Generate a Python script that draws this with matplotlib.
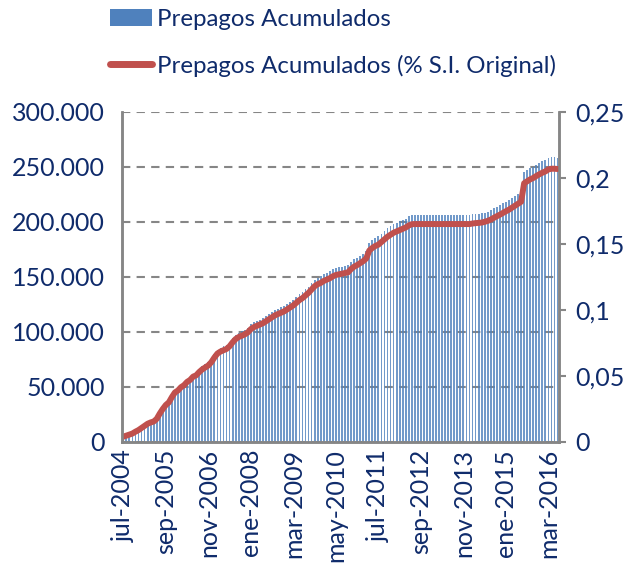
import matplotlib
matplotlib.use('Agg')
import matplotlib.pyplot as plt
import numpy as np
import pandas as pd
from matplotlib.patches import Patch
from matplotlib.lines import Line2D

# Monthly series jul-2004 .. jun-2016
months = pd.date_range('2004-07-01', periods=144, freq='MS')
mes = ['ene', 'feb', 'mar', 'abr', 'may', 'jun', 'jul', 'ago', 'sep', 'oct', 'nov', 'dic']

# Prepagos acumulados (thousands)
prepagos = [
    5.0, 6.0, 7.0, 8.0, 9.8, 11.3, 13.3, 15.3, 17.3, 18.5, 19.4, 21.9,
    26.9, 31.3, 35.0, 37.5, 42.5, 46.9, 48.8, 51.9, 53.8, 56.9, 58.8, 61.9,
    63.1, 66.3, 68.8, 70.6, 72.5, 75.6, 80.0, 83.8, 85.6, 86.9, 88.1, 90.6,
    94.4, 97.5, 99.4, 100.6, 101.9, 103.8, 106.9, 108.8, 110.0, 111.3, 112.5, 114.4,
    116.3, 118.1, 120.0, 121.3, 122.5, 123.8, 125.6, 127.5, 129.4, 131.9, 134.4, 136.3,
    138.8, 141.3, 144.4, 147.5, 149.4, 150.6, 152.5, 153.8, 155.0, 156.9, 158.1, 158.8,
    159.4, 160.0, 160.6, 163.8, 166.0, 167.5, 169.4, 171.3, 173.8, 181.3, 183.8, 185.6,
    186.9, 189.4, 191.9, 194.4, 196.3, 198.1, 199.4, 200.6, 201.9, 203.1, 205.0, 206.3,
    206.4, 206.4, 206.4, 206.4, 206.4, 206.4, 206.4, 206.4, 206.4, 206.4, 206.4, 206.4,
    206.4, 206.4, 206.4, 206.4, 206.4, 206.4, 206.4, 206.9, 207.3, 207.5, 207.8, 208.5,
    209.4, 210.6, 212.3, 213.8, 215.3, 216.9, 218.5, 220.0, 221.9, 223.8, 225.6, 227.5,
    245.0, 246.9, 248.8, 250.0, 251.9, 253.5, 255.0, 256.3, 258.1, 258.8, 258.8, 258.5,
]

# Prepagos acumulados as fraction of original balance (thousandths)
pct_original = [
    4.0, 4.8, 5.6, 6.4, 7.8, 9.0, 10.6, 12.2, 13.8, 14.8, 15.5, 17.5,
    21.5, 25.0, 28.0, 30.0, 34.0, 37.5, 39.0, 41.5, 43.0, 45.5, 47.0, 49.5,
    50.5, 53.0, 55.0, 56.5, 58.0, 60.5, 64.0, 67.0, 68.5, 69.5, 70.5, 72.5,
    75.5, 78.0, 79.5, 80.5, 81.5, 83.0, 85.5, 87.0, 88.0, 89.0, 90.0, 91.5,
    93.0, 94.5, 96.0, 97.0, 98.0, 99.0, 100.5, 102.0, 103.5, 105.5, 107.5, 109.0,
    111.0, 113.0, 115.5, 118.0, 119.5, 120.5, 122.0, 123.0, 124.0, 125.5, 126.5, 127.0,
    127.5, 128.0, 128.5, 131.0, 132.8, 134.0, 135.5, 137.0, 139.0, 145.0, 147.0, 148.5,
    149.5, 151.5, 153.5, 155.5, 157.0, 158.5, 159.5, 160.5, 161.5, 162.5, 164.0, 165.0,
    165.1, 165.1, 165.1, 165.1, 165.1, 165.1, 165.1, 165.1, 165.1, 165.1, 165.1, 165.1,
    165.1, 165.1, 165.1, 165.1, 165.1, 165.1, 165.1, 165.5, 165.8, 166.0, 166.2, 166.8,
    167.5, 168.5, 169.8, 171.0, 172.2, 173.5, 174.8, 176.0, 177.5, 179.0, 180.5, 182.0,
    196.0, 197.5, 199.0, 200.0, 201.5, 202.8, 204.0, 205.0, 206.5, 207.0, 207.0, 206.8,
]

left_ticks = [0, 50000, 100000, 150000, 200000, 250000, 300000]
left_labels = ['0', '50.000', '100.000', '150.000', '200.000', '250.000', '300.000']
right_ticks = [0, 0.05, 0.1, 0.15, 0.2, 0.25]
right_labels = ['0', '0,05', '0,1', '0,15', '0,2', '0,25']

navy = '#0F2B6B'
grey = '#868686'
plt.rcParams['font.family'] = ['Lato', 'DejaVu Sans']

x = np.arange(len(months))
bars = np.array(prepagos) * 1000
line = np.array(pct_original) / 1000

fig = plt.figure(figsize=(6.31, 5.67), dpi=100)
ax = fig.add_axes([0.193, 0.2205, 0.693, 0.582])
ax2 = ax.twinx()

ax.bar(x, bars, width=0.6, color='#4F81BD', alpha=0.8, linewidth=0)
ax2.plot(x, line, color='#C0504D', linewidth=4.3, solid_capstyle='round')

ax.set_xlim(-0.5, len(x) - 0.5)
ax.set_ylim(0, 300000)
ax2.set_ylim(0, 0.25)

ax.set_yticks(left_ticks)
ax.set_yticklabels(left_labels, fontsize=18, color=navy)
ax.tick_params(axis='y', length=0, pad=12)
ax2.set_yticks(right_ticks)
ax2.set_yticklabels(right_labels, fontsize=18, color=navy)
ax2.tick_params(axis='y', length=5, color=grey, width=1.5, pad=7)

ax.yaxis.grid(True, linestyle=(0, (4, 3)), color=grey, linewidth=1.5)
ax.set_axisbelow(True)

tick_idx = list(range(0, len(months), 14))
ax.set_xticks(tick_idx)
ax.set_xticklabels([f"{mes[months[i].month - 1]}-{months[i].year}" for i in tick_idx],
                   rotation=90, fontsize=18, color=navy)
ax.tick_params(axis='x', length=0, pad=5)

for a in (ax, ax2):
    a.spines['top'].set_visible(False)
    for s in ('left', 'right', 'bottom'):
        a.spines[s].set_color(grey)
        a.spines[s].set_linewidth(1.8)

handles = [Patch(facecolor='#4F81BD', edgecolor='none'),
           Line2D([0], [0], color='#C0504D', linewidth=5, solid_capstyle='round')]
fig.legend(handles, ['Prepagos Acumulados', 'Prepagos Acumulados (% S.I. Original)'],
           loc='upper left', bbox_to_anchor=(0.174, 0.985), frameon=False,
           borderaxespad=0, borderpad=0,
           fontsize=17.3, labelcolor=navy, handlelength=1.75, handletextpad=0.2,
           labelspacing=1.05)

plt.savefig('out.png', dpi=100)
